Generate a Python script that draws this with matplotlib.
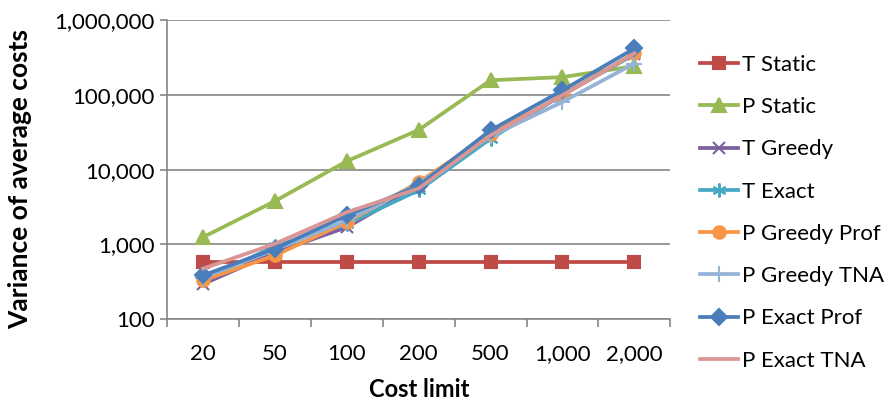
import matplotlib.pyplot as plt
from matplotlib.ticker import FixedLocator, FuncFormatter

plt.rcParams['font.family'] = ['Lato', 'DejaVu Sans']

# categories on the x axis
cost_limits = ["20", "50", "100", "200", "500", "1,000", "2,000"]

# series values
t_static = [590, 590, 590, 590, 590, 590, 590]
p_static = [1250, 3800, 13000, 34000, 157000, 173000, 243000]
t_greedy = [295, 780, 1700, 6000, 27000, 100000, 350000]
t_exact = [330, 950, 1870, 5300, 26000, 100000, 350000]
p_greedy_prof = [330, 713, 1990, 6800, 30000, 99000, 360000]
p_greedy_tna = [360, 850, 2100, 6500, 28000, 80500, 263000]
p_exact_prof = [385, 875, 2450, 6100, 33600, 115000, 418000]
p_exact_tna = [475, 1020, 2700, 5600, 28800, 99000, 360000]

series = [
    ("T Static", t_static, "#BE4B48", "s", 9),
    ("P Static", p_static, "#98B954", "^", 10),
    ("T Greedy", t_greedy, "#7D60A0", "x", 9),
    ("T Exact", t_exact, "#46AAC5", (6, 2, 0), 10),
    ("P Greedy Prof", p_greedy_prof, "#F79646", "o", 9),
    ("P Greedy TNA", p_greedy_tna, "#95B3D7", "+", 11),
    ("P Exact Prof", p_exact_prof, "#4A7EBB", "D", 8),
    ("P Exact TNA", p_exact_tna, "#D99694", None, 0),
]

fig = plt.figure(figsize=(8.89, 4.03), dpi=100)
ax = fig.add_axes([0.188, 0.208, 0.566, 0.742])

x = list(range(len(cost_limits)))
for name, vals, color, marker, ms in series:
    ax.plot(x, vals, color=color, lw=2.7, marker=marker, markersize=ms,
            markeredgewidth=1.5, markeredgecolor=color, label=name)

ax.set_yscale("log")
ax.set_ylim(100, 1000000)
ax.set_xlim(-0.5, 6.5)
ax.yaxis.set_major_locator(FixedLocator([100, 1000, 10000, 100000, 1000000]))
ax.yaxis.set_minor_locator(FixedLocator([]))
ax.yaxis.set_major_formatter(FuncFormatter(lambda v, p: f"{int(v):,}"))
ax.set_xticks(x)
ax.set_xticklabels(cost_limits)
ax.set_xticks([i - 0.5 for i in range(len(cost_limits) + 1)], minor=True)
ax.tick_params(axis="x", which="major", length=0, pad=18, labelsize=16)
ax.tick_params(axis="x", which="minor", length=6, color="#868686", width=1.2)
ax.tick_params(axis="y", length=5, color="#868686", width=1.2, pad=4, labelsize=16)

ax.grid(axis="y", color="#868686", lw=1.2)
ax.set_axisbelow(True)
for s in ["top", "right"]:
    ax.spines[s].set_visible(False)
for s in ["left", "bottom"]:
    ax.spines[s].set_color("#868686")
    ax.spines[s].set_linewidth(1.2)

ax.set_xlabel("Cost limit", fontsize=17, fontweight="bold", labelpad=10)
ax.set_ylabel("Variance of average costs", fontsize=19, fontweight="bold")
ax.yaxis.set_label_coords(-0.268, 0.468)

ax.legend(loc="upper left", bbox_to_anchor=(700 / 889, 1 - 55 / 403),
          bbox_transform=fig.transFigure, frameon=False, borderpad=0,
          borderaxespad=0, fontsize=16, handlelength=1.7, handletextpad=0.2,
          labelspacing=1.0)

fig.savefig("out.png", dpi=100)
